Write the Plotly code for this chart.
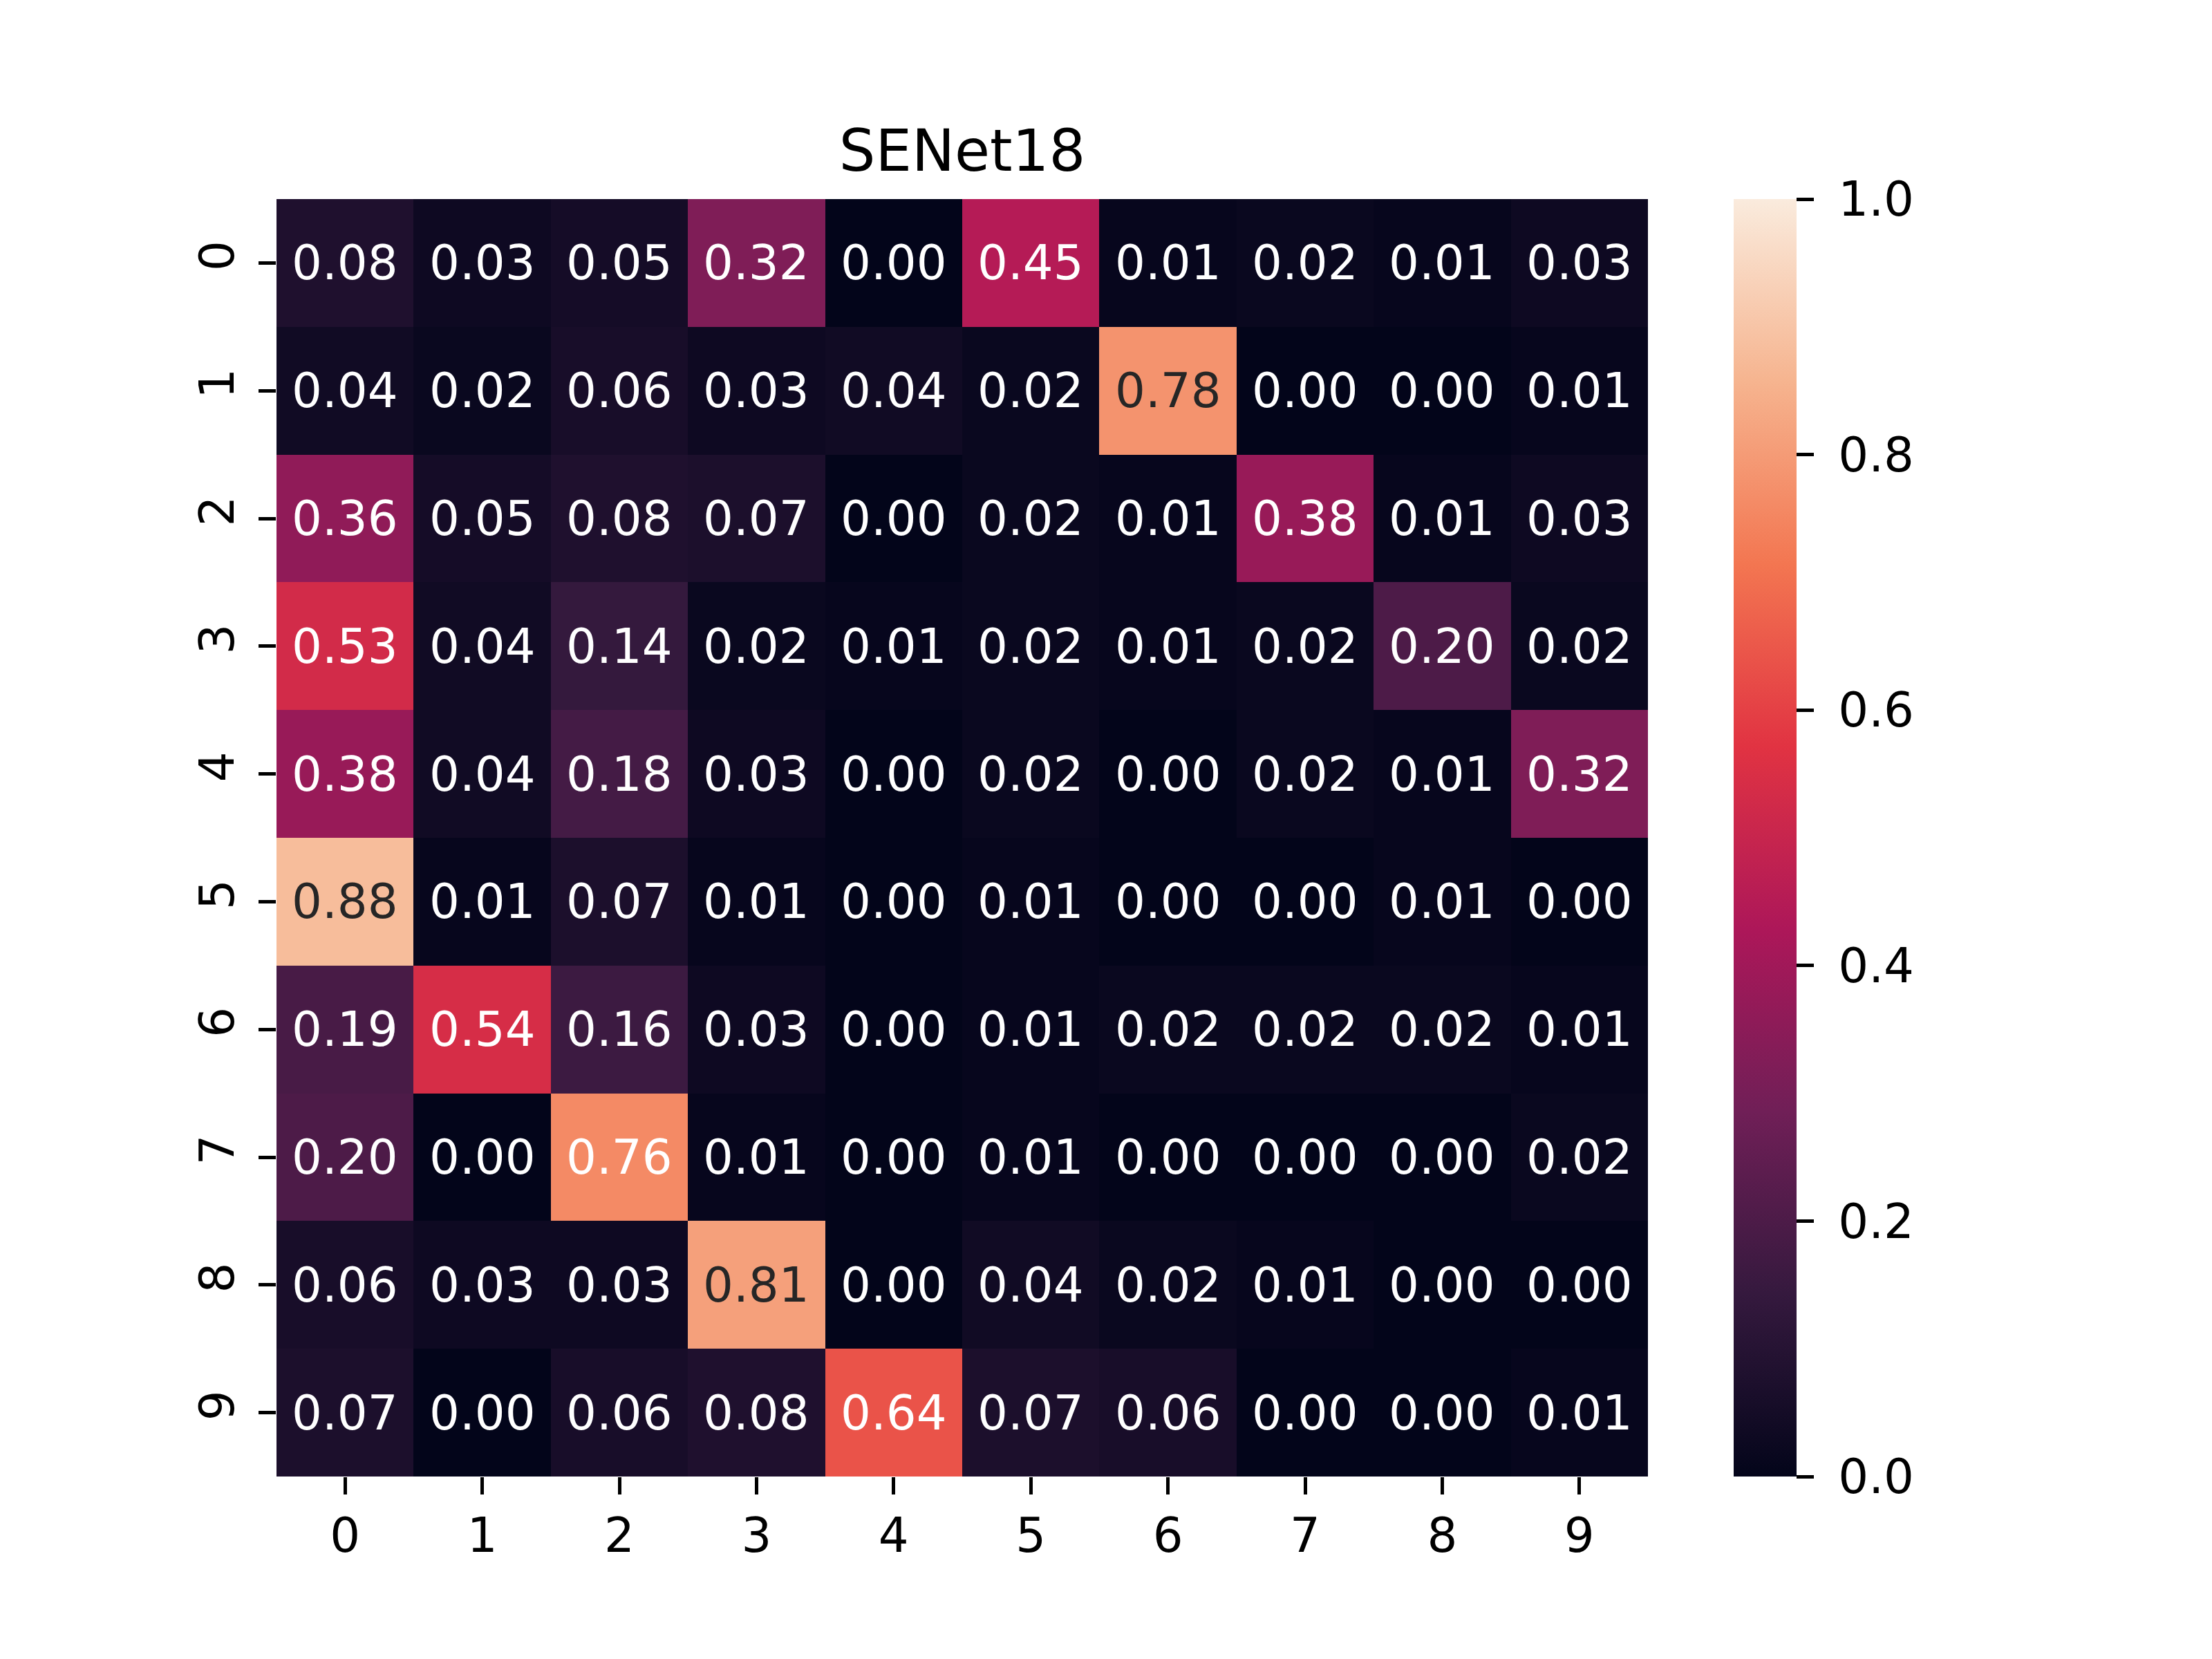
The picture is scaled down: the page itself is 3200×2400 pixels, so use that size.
import plotly.graph_objects as go

# confusion matrix (rows = true class, cols = predicted)
classes = ["0", "1", "2", "3", "4", "5", "6", "7", "8", "9"]
values = [
    [0.08, 0.03, 0.05, 0.32, 0.00, 0.45, 0.01, 0.02, 0.01, 0.03],
    [0.04, 0.02, 0.06, 0.03, 0.04, 0.02, 0.78, 0.00, 0.00, 0.01],
    [0.36, 0.05, 0.08, 0.07, 0.00, 0.02, 0.01, 0.38, 0.01, 0.03],
    [0.53, 0.04, 0.14, 0.02, 0.01, 0.02, 0.01, 0.02, 0.20, 0.02],
    [0.38, 0.04, 0.18, 0.03, 0.00, 0.02, 0.00, 0.02, 0.01, 0.32],
    [0.88, 0.01, 0.07, 0.01, 0.00, 0.01, 0.00, 0.00, 0.01, 0.00],
    [0.19, 0.54, 0.16, 0.03, 0.00, 0.01, 0.02, 0.02, 0.02, 0.01],
    [0.20, 0.00, 0.76, 0.01, 0.00, 0.01, 0.00, 0.00, 0.00, 0.02],
    [0.06, 0.03, 0.03, 0.81, 0.00, 0.04, 0.02, 0.01, 0.00, 0.00],
    [0.07, 0.00, 0.06, 0.08, 0.64, 0.07, 0.06, 0.00, 0.00, 0.01],
]
cbar_ticks = [0.0, 0.2, 0.4, 0.6, 0.8, 1.0]

# seaborn "rocket" approximation
rocket = [
    [0.0, "#03051a"],
    [1 / 7, "#35193e"],
    [2 / 7, "#701f57"],
    [3 / 7, "#ad1759"],
    [4 / 7, "#e13342"],
    [5 / 7, "#f37651"],
    [6 / 7, "#f6b48f"],
    [1.0, "#faebdd"],
]

FONT = "DejaVu Sans"

fig = go.Figure(go.Heatmap(
    z=values, x=classes, y=classes,
    colorscale=rocket, zmin=0, zmax=1,
    colorbar=dict(
        x=1.0625, xanchor="left", xpad=0, ypad=0,
        y=0.5, yanchor="middle", len=1, lenmode="fraction",
        thickness=91, outlinewidth=0,
        # leading nbsp widens the gap between tick and label like matplotlib
        tickvals=cbar_ticks, ticktext=["\u00a0" + f"{t:.1f}" for t in cbar_ticks],
        ticks="outside", ticklen=25, tickwidth=5, tickcolor="black",
        tickfont=dict(family=FONT, size=69, color="black"),
    ),
))

# cell annotations, dark text on light cells like seaborn
for i, row in enumerate(values):
    for j, v in enumerate(row):
        fig.add_annotation(
            x=classes[j], y=classes[i], text=f"{v:.2f}", showarrow=False,
            font=dict(family=FONT, size=69,
                      color="#262626" if v >= 0.77 else "white"),
        )

# margins allow for the 8px default body margin of the page
fig.update_layout(
    width=3200, height=2400,
    margin=dict(l=392, r=824, t=280, b=272),
    paper_bgcolor="white", plot_bgcolor="white",
    title=dict(text="SENet18", x=0.5, xref="paper", xanchor="center",
               y=1, yref="paper", yanchor="bottom", pad=dict(b=41),
               font=dict(family=FONT, size=83, color="black")),
    font=dict(family=FONT, color="black"),
)
fig.update_xaxes(
    showgrid=False, zeroline=False, showline=False,
    ticks="outside", ticklen=25, tickwidth=5, tickcolor="black",
    tickfont=dict(family=FONT, size=69, color="black"),
)
fig.update_yaxes(
    autorange="reversed", showgrid=False, zeroline=False, showline=False,
    ticks="outside", ticklen=25, tickwidth=5, tickcolor="black",
    tickangle=-90, ticklabelstandoff=8,
    tickfont=dict(family=FONT, size=69, color="black"),
)

fig.write_html("out.html")
